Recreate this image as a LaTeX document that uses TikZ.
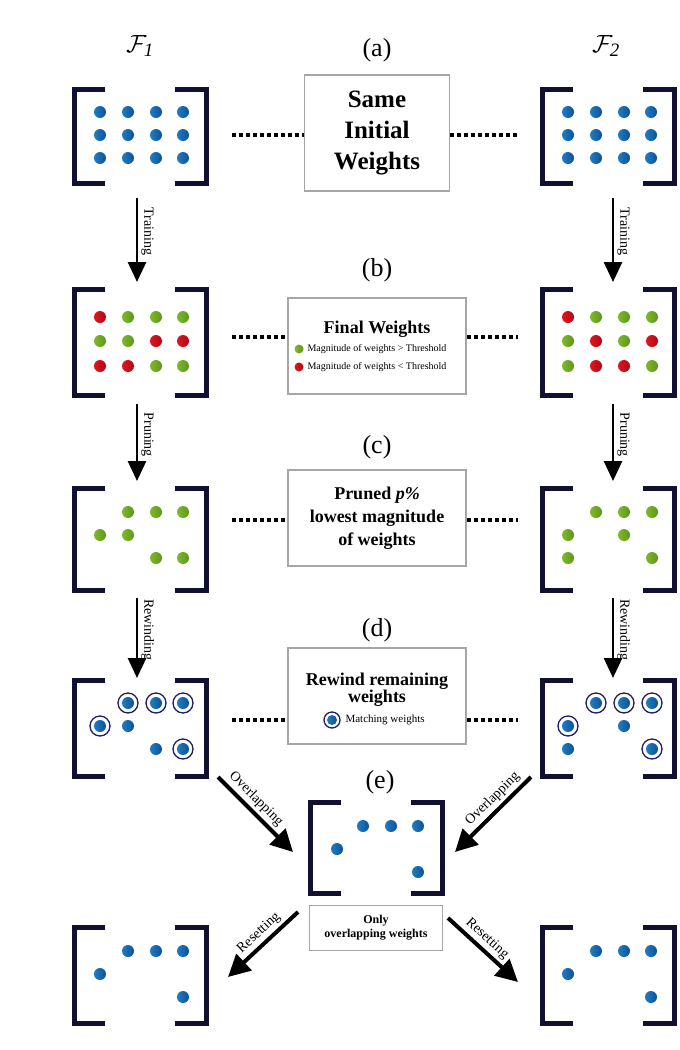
\documentclass[tikz,border=0pt]{standalone}
\usepackage{fontspec}
\setmainfont{Liberation Serif}
\usetikzlibrary{arrows.meta}
\definecolor{brk}{RGB}{16,16,48}
\definecolor{bd}{RGB}{30,125,195}
\definecolor{bdd}{RGB}{15,80,150}
\definecolor{gd}{RGB}{130,185,40}
\definecolor{gdd}{RGB}{90,150,30}
\definecolor{rd}{RGB}{225,20,30}
\definecolor{rdd}{RGB}{175,10,20}
\definecolor{ring}{RGB}{30,30,100}
\tikzset{
  bdot/.style={circle,inner sep=0pt,minimum size=12pt,left color=bd,right color=bdd},
  gdot/.style={circle,inner sep=0pt,minimum size=12pt,left color=gd,right color=gdd},
  rdot/.style={circle,inner sep=0pt,minimum size=12pt,left color=rd,right color=rdd},
  ringd/.style={circle,draw=ring,line width=1.3pt,fill=white,inner sep=0pt,minimum size=20pt},
  brkline/.style={draw=brk,line width=5pt},
  gbox/.style={draw=gray!70,line width=1.5pt,fill=white},
  dotl/.style={line width=3.5pt,dash pattern=on 4pt off 3pt},
  varr/.style={line width=2.8pt,-{Triangle[length=20pt,width=18pt]}},
  darr/.style={line width=4pt,-{Triangle[length=22pt,width=22pt]}},
  lab/.style={font=\fontsize{14}{15}\selectfont,inner sep=3pt},
  ttl/.style={font=\fontsize{26}{28}\selectfont},
}
\newcommand{\mybrk}[5]{% name, left x, right x, top y, bottom y
  \draw[brkline] (#2+31,#4) -- (#2,#4) -- (#2,#5) -- (#2+31,#5);
  \draw[brkline] (#3-31,#4) -- (#3,#4) -- (#3,#5) -- (#3-31,#5);
  \coordinate (#1) at ({(#2+#3)/2},{(#4+#5)/2});
}
\begin{document}
\begin{tikzpicture}[x=1pt,y=-1pt]
\useasboundingbox (0,0) rectangle (680,1050);
\fill[white] (0,0) rectangle (680,1050);
% labels
\node[font=\fontsize{27}{30}\selectfont] (f1) at (140,46) {$\mathcal{F}_{\mathit{1}}$};
\node[font=\fontsize{27}{30}\selectfont] (f2) at (606,46) {$\mathcal{F}_{\mathit{2}}$};
% ---- row a
\mybrk{ma1}{74}{206}{89}{183}
\mybrk{ma2}{542}{674}{89}{183}
\foreach \x in {100,128,156,183}{\foreach \y in {112,135,158}{
  \node[bdot] at (\x,\y) {}; \node[bdot] at (\x+468,\y) {};}}
\node[ttl] (la) at (377,50) {(a)};
\node[gbox,minimum width=145pt,minimum height=116pt,align=center,font=\bfseries\fontsize{25}{31}\selectfont] (ba) at (377,133) {Same\\Initial\\Weights};
\draw[dotl] (232,135) -- (ba.west |- 0,135);
\draw[dotl] (ba.east |- 0,135) -- (518,135);
% ---- row b
\mybrk{mb1}{74}{206}{289}{395}
\mybrk{mb2}{542}{674}{289}{395}
\foreach \x/\y/\c in {100/317/r,128/317/g,156/317/g,183/317/g,100/341/g,128/341/g,156/341/r,183/341/r,100/366/r,128/366/r,156/366/g,183/366/g}{\node[\c dot] at (\x,\y) {};}
\foreach \x/\y/\c in {568/317/r,596/317/g,624/317/g,652/317/g,568/341/g,596/341/r,624/341/g,652/341/r,568/366/g,596/366/r,624/366/r,652/366/g}{\node[\c dot] at (\x,\y) {};}
\node[ttl] (lb) at (377,270) {(b)};
\node[gbox,minimum width=178pt,minimum height=96pt] (bb) at (377,346) {};
\node[font=\bfseries\fontsize{18}{20}\selectfont] (tb) at (377,329) {Final Weights};
\node[gdot,minimum size=9pt] (gl) at (299,349) {};
\node[anchor=west,font=\fontsize{10}{11}\selectfont] (gt) at (304,349) {Magnitude of weights > Threshold};
\node[rdot,minimum size=9pt] (rl) at (299,367) {};
\node[anchor=west,font=\fontsize{10}{11}\selectfont] (rt) at (304,367) {Magnitude of weights < Threshold};
\draw[dotl] (232,337) -- (bb.west |- 0,337);
\draw[dotl] (bb.east |- 0,337) -- (518,337);
% ---- row c
\mybrk{mc1}{74}{206}{488}{590}
\mybrk{mc2}{542}{674}{488}{590}
\foreach \x/\y in {128/512,156/512,183/512,100/535,128/535,156/558,183/558}{\node[gdot] at (\x,\y) {};}
\foreach \x/\y in {596/512,624/512,652/512,568/535,624/535,568/558,652/558}{\node[gdot] at (\x,\y) {};}
\node[ttl] (lc) at (377,447) {(c)};
\node[gbox,minimum width=178pt,minimum height=96pt,align=center,font=\bfseries\fontsize{18}{23}\selectfont] (bc) at (377,518) {Pruned \textit{p\%}\\lowest magnitude\\of weights};
\draw[dotl] (232,520) -- (bc.west |- 0,520);
\draw[dotl] (bc.east |- 0,520) -- (518,520);
% ---- row d
\mybrk{md1}{74}{206}{680}{776}
\mybrk{md2}{542}{674}{680}{776}
\foreach \x/\y in {128/703,156/703,183/703,100/726,183/749}{\node[ringd] at (\x,\y) {}; \node[bdot] at (\x,\y) {};}
\foreach \x/\y in {128/726,156/749}{\node[bdot] at (\x,\y) {};}
\foreach \x/\y in {596/703,624/703,652/703,568/726,652/749}{\node[ringd] at (\x,\y) {}; \node[bdot] at (\x,\y) {};}
\foreach \x/\y in {624/726,568/749}{\node[bdot] at (\x,\y) {};}
\node[ttl] (ld) at (377,630) {(d)};
\node[gbox,minimum width=178pt,minimum height=96pt] (bd) at (377,696) {};
\node[align=center,font=\bfseries\fontsize{18}{17}\selectfont] (td) at (377,690) {Rewind remaining\\weights};
\node[ringd,minimum size=16pt] (rg) at (332,720) {}; \node[bdot,minimum size=10pt] at (332,720) {};
\node[anchor=west,font=\fontsize{11}{12}\selectfont] (rgt) at (342,720) {Matching weights};
\draw[dotl] (232,720) -- (bd.west |- 0,720);
\draw[dotl] (bd.east |- 0,720) -- (518,720);
% ---- row e
\node[ttl] (le) at (380,782) {(e)};
\mybrk{me}{310}{442}{802}{893}
\foreach \x/\y in {363/826,391/826,418/826,337/849,418/872}{\node[bdot] at (\x,\y) {};}
\node[gbox,minimum width=133pt,minimum height=45pt,align=center,font=\bfseries\fontsize{12}{14}\selectfont] (be) at (376,928) {Only\\overlapping weights};
% ---- final row
\mybrk{mf1}{74}{206}{927}{1023}
\mybrk{mf2}{542}{674}{927}{1023}
\foreach \x/\y in {128/951,156/951,183/951,100/974,183/997}{\node[bdot] at (\x,\y) {}; \node[bdot] at (\x+468,\y) {};}
% ---- vertical arrows
\foreach \a/\b/\t in {198/282/Training,404/481/Pruning,598/678/Rewinding}{
  \coordinate (l1\a) at (137,\a); \coordinate (l2\a) at (137,\b);
  \draw[varr] (l1\a) -- (l2\a) node[pos=0.4,rotate=-90,anchor=south,lab] {\t};
  \coordinate (r1\a) at (613,\a); \coordinate (r2\a) at (613,\b);
  \draw[varr] (r1\a) -- (r2\a) node[pos=0.4,rotate=-90,anchor=south,lab] {\t};
}
% ---- diagonal arrows
\coordinate (o1s) at (218,777); \coordinate (o1e) at (293,852);
\coordinate (o2s) at (531,777); \coordinate (o2e) at (455,852);
\coordinate (r1s) at (298,912); \coordinate (r1e) at (228,977);
\coordinate (r2s) at (448,918); \coordinate (r2e) at (518,982);
\draw[darr] (o1s) -- (o1e) node[pos=0.4,sloped,above,lab] {Overlapping};
\draw[darr] (o2s) -- (o2e) node[pos=0.4,sloped,above,lab] {Overlapping};
\draw[darr] (r1s) -- (r1e) node[pos=0.45,sloped,above,lab] {Resetting};
\draw[darr] (r2s) -- (r2e) node[pos=0.45,sloped,above,lab] {Resetting};
\end{tikzpicture}
\end{document}
